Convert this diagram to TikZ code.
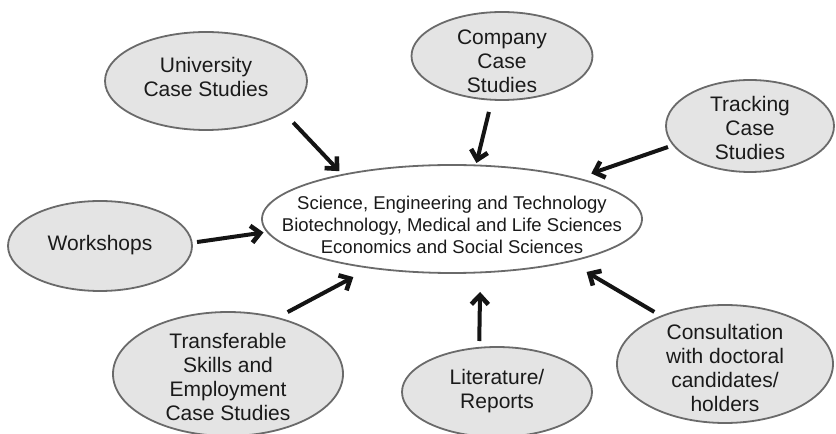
\documentclass[tikz,border=0pt]{standalone}
\usepackage{fontspec}
\setmainfont{Liberation Sans}
\usetikzlibrary{shapes.geometric,arrows.meta}
\definecolor{bubblefill}{HTML}{E4E4E4}
\definecolor{bubbleline}{HTML}{6A6A6A}
\definecolor{inktext}{HTML}{1A1A1A}

\begin{document}
\begin{tikzpicture}[x=1pt, y=1pt,
    bubble/.style={ellipse, draw=bubbleline, line width=1.8pt, fill=bubblefill, outer sep=0pt, inner sep=0pt},
    hub/.style={bubble, fill=white},
    lbl/.style={align=center, text=inktext, inner sep=0pt, font=\fontsize{21}{24}\selectfont},
    hublbl/.style={lbl, font=\fontsize{18.5}{22}\selectfont},
    feed/.style={-{Straight Barb[length=9pt,width=17pt,line width=4.6pt]}, line width=4pt, black!92}]
    \useasboundingbox (0,0) rectangle (836,434);

    \node[hub, minimum width=380pt, minimum height=108pt] (centre) at (452,215) {};
    \node[hublbl] (centreT) at (452,209) {Science, Engineering and Technology\\Biotechnology, Medical and Life Sciences\\Economics and Social Sciences};

    \node[bubble, minimum width=202pt, minimum height=98pt] (uni) at (206,353) {};
    \node[lbl] (uniT) at (206,357) {University\\Case Studies};
    \node[bubble, minimum width=181pt, minimum height=88pt] (comp) at (502,378) {};
    \node[lbl] (compT) at (502,373) {Company\\Case\\Studies};
    \node[bubble, minimum width=168pt, minimum height=92pt] (track) at (750,308) {};
    \node[lbl] (trackT) at (750,306) {Tracking\\Case\\Studies};
    \node[bubble, minimum width=184pt, minimum height=90pt] (work) at (100,188) {};
    \node[lbl] (workT) at (100,189) {Workshops};
    \node[bubble, minimum width=230pt, minimum height=124pt] (transf) at (228,60) {};
    \node[lbl] (transfT) at (228,57) {Transferable\\Skills and\\Employment\\Case Studies};
    \node[bubble, minimum width=190pt, minimum height=90pt] (lit) at (497,42) {};
    \node[lbl] (litT) at (497,43) {Literature/\\Reports};
    \node[bubble, minimum width=216pt, minimum height=118pt] (consult) at (725,70) {};
    \node[lbl] (consultT) at (725,66) {Consultation\\with doctoral\\candidates/\\holders};

    \draw[feed, shorten <=14pt, shorten >=5pt] (uni.-22) -- (centre.158);
    \draw[feed, shorten <=12.6pt, shorten >=2.5pt] (comp.-103) -- (centre.66);
    \draw[feed, shorten <=5.9pt, shorten >=15pt] (track.194) -- (centre.18.6);
    \draw[feed, shorten <=5.3pt, shorten >=4pt] (work.2) -- (centre.184.5);
    \draw[feed, shorten <=12.3pt, shorten >=19.7pt] (transf.49) -- (centre.211);
    \draw[feed, shorten <=6.8pt, shorten >=19.6pt] (lit.112) -- (centre.298);
    \draw[feed, shorten <=8.5pt, shorten >=20.5pt] (consult.143) -- (centre.340);
\end{tikzpicture}
\end{document}
